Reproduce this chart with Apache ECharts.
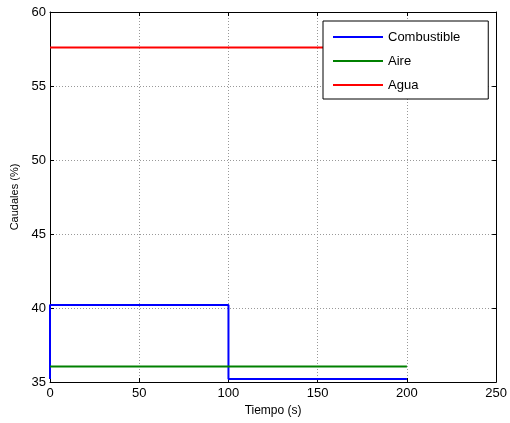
<!DOCTYPE html>
<html>
<head>
<meta charset="utf-8">
<script src="https://cdn.jsdelivr.net/npm/echarts@6/dist/echarts.min.js"></script>
<style>
	html, body { margin: 0; padding: 0; background: #fff; }
	#main { width: 510px; height: 423px; }
</style>
</head>
<body>
<div id="main"></div>
<script>
	// datos
	var names = [ 'Combustible', 'Aire', 'Agua' ];
	var colors = [ '#0000ff', '#008000', '#ff0000' ];
	var tCombustible = [ 0, 0, 100, 100, 200 ];
	var qCombustible = [ 35.2, 40.2, 40.2, 35.2, 35.2 ];
	var tAire = [ 0, 200 ];
	var qAire = [ 36.05, 36.05 ];
	var tAgua = [ 0, 200 ];
	var qAgua = [ 57.6, 57.6 ];

	function pares(t, q) {
		var out = [];
		for (var i = 0; i < t.length; i++) {
			out.push([ t[i], q[i] ]);
		}
		return out;
	}

	var myChart = echarts.init(document.getElementById('main'));
	var fuente = 'Liberation Sans, Arial, sans-serif';
	var ejeX = {
		type : 'value',
		min : 0,
		max : 250,
		interval : 50,
		axisLine : { show : true, onZero : false, lineStyle : { color : '#000', width : 1 } },
		axisTick : { show : true, inside : true, length : 4, lineStyle : { color : '#000' } },
		splitLine : { show : true, lineStyle : { color : '#999', type : [ 1, 2 ], width : 1 } }
	};
	var ejeY = {
		type : 'value',
		min : 35,
		max : 60,
		interval : 5,
		axisLine : { show : true, onZero : false, lineStyle : { color : '#000', width : 1 } },
		axisTick : { show : true, inside : true, length : 4, lineStyle : { color : '#000' } },
		splitLine : { show : true, lineStyle : { color : '#999', type : [ 1, 2 ], width : 1 } }
	};

	var option = {
		animation : false,
		backgroundColor : '#fff',
		textStyle : { fontFamily : fuente },
		grid : { left : 50, top : 12, right : 13, bottom : 41 },
		legend : {
			data : names,
			orient : 'vertical',
			left : 323,
			top : 21,
			icon : 'rect',
			itemWidth : 50,
			itemHeight : 2,
			itemGap : 10,
			padding : [ 9, 28, 7, 10 ],
			borderColor : '#000',
			borderWidth : 1,
			backgroundColor : '#fff',
			textStyle : { fontFamily : fuente, fontSize : 13, color : '#000', lineHeight : 14 }
		},
		xAxis : [ echarts.util.merge({
			position : 'bottom',
			name : 'Tiempo (s)',
			nameLocation : 'middle',
			nameGap : 22,
			nameTextStyle : { fontFamily : fuente, fontSize : 12, color : '#000' },
			axisLabel : { fontFamily : fuente, fontSize : 13, color : '#000', margin : 5 }
		}, ejeX, true), echarts.util.merge({
			position : 'top',
			axisLabel : { show : false },
			splitLine : { show : false }
		}, ejeX, false) ],
		yAxis : [ echarts.util.merge({
			position : 'left',
			name : 'Caudales (%)',
			nameLocation : 'middle',
			nameGap : 22,
			nameTextStyle : { fontFamily : fuente, fontSize : 11, color : '#000' },
			axisLabel : { fontFamily : fuente, fontSize : 13, color : '#000', margin : 4 }
		}, ejeY, true), echarts.util.merge({
			position : 'right',
			axisLabel : { show : false },
			splitLine : { show : false }
		}, ejeY, false) ],
		series : [ {
			name : names[0],
			type : 'line',
			symbol : 'none',
			data : pares(tCombustible, qCombustible),
			lineStyle : { color : colors[0], width : 2 },
			itemStyle : { color : colors[0] }
		}, {
			name : names[1],
			type : 'line',
			symbol : 'none',
			data : pares(tAire, qAire),
			lineStyle : { color : colors[1], width : 2 },
			itemStyle : { color : colors[1] }
		}, {
			name : names[2],
			type : 'line',
			symbol : 'none',
			data : pares(tAgua, qAgua),
			lineStyle : { color : colors[2], width : 2 },
			itemStyle : { color : colors[2] }
		} ]
	};

	myChart.setOption(option);
</script>
</body>
</html>
